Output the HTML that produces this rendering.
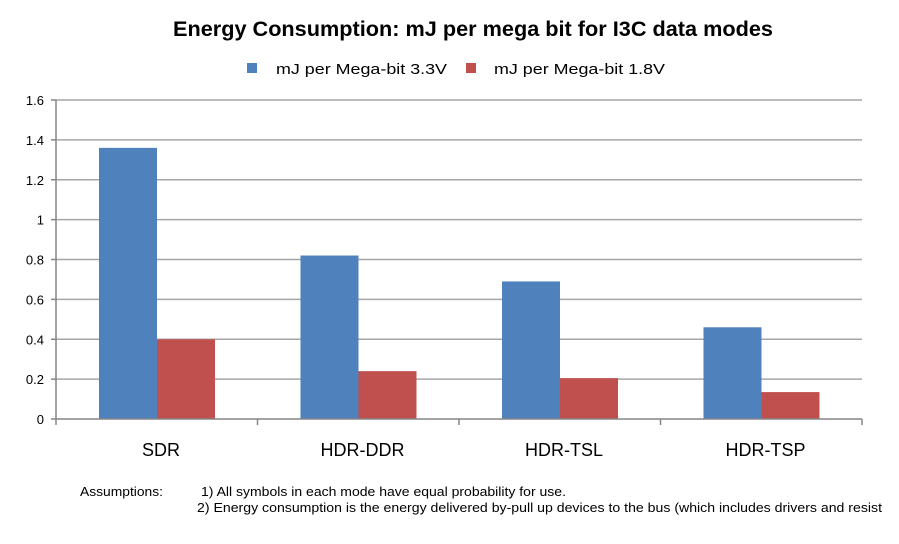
<!DOCTYPE html>
<html><head><meta charset="utf-8"><style>
body{margin:0;background:#fff;width:899px;height:539px;overflow:hidden;font-family:"Liberation Sans",sans-serif}
</style></head><body>
<svg id="chart" width="899" height="539">
<text x="173" y="36" textLength="600" lengthAdjust="spacingAndGlyphs" font-size="21" font-weight="bold" fill="#000">Energy Consumption: mJ per mega bit for I3C data modes</text>
<g>
<rect x="247" y="63" width="10" height="10" fill="#4f81bd"/>
<text x="276" y="74" textLength="171" lengthAdjust="spacingAndGlyphs" font-size="15">mJ per Mega-bit 3.3V</text>
<rect x="466" y="63" width="10" height="10" fill="#c0504d"/>
<text x="494" y="74" textLength="171" lengthAdjust="spacingAndGlyphs" font-size="15">mJ per Mega-bit 1.8V</text>
</g>
<g id="grid"></g><g id="bars"></g><g id="axes"></g>
<text x="80" y="496" textLength="83" lengthAdjust="spacingAndGlyphs" font-size="13">Assumptions:</text>
<text x="201" y="496" textLength="365" lengthAdjust="spacingAndGlyphs" font-size="13">1) All symbols in each mode have equal probability for use.</text>
<text x="197" y="512" textLength="685" lengthAdjust="spacingAndGlyphs" font-size="13">2) Energy consumption is the energy delivered by-pull  up devices to the bus (which includes drivers and resist</text>
</svg>
<script>
const categories=["SDR","HDR-DDR","HDR-TSL","HDR-TSP"];
const series33=[1.36,0.82,0.69,0.46];
const series18=[0.40,0.24,0.205,0.135];
const ticks=[0,0.2,0.4,0.6,0.8,1,1.2,1.4,1.6];
const tickLabels=["0","0.2","0.4","0.6","0.8","1","1.2","1.4","1.6"];
const NS="http://www.w3.org/2000/svg";
const x0=56,x1=862,yTop=100,yBot=419,vmax=1.6;
const y=v=>yBot-(v/vmax)*(yBot-yTop);
const band=(x1-x0)/categories.length;
function mk(t,a,p){const e=document.createElementNS(NS,t);for(const k in a)e.setAttribute(k,a[k]);p.appendChild(e);return e;}
const grid=document.getElementById('grid'),bars=document.getElementById('bars'),axes=document.getElementById('axes');
ticks.forEach((t,i)=>{
 if(t>0){const g=mk('line',{x1:x0,x2:x1,y1:y(t),y2:y(t),stroke:'#a6a6a6','stroke-width':1.5},grid);
 
 }
 const tk=mk('line',{x1:x0-5,x2:x0,y1:y(t),y2:y(t),stroke:'#868686','stroke-width':1.5},axes);
 
 
 const l=mk('text',{x:x0-12,y:y(t)+5,'text-anchor':'end','font-size':13},axes);
 l.textContent=tickLabels[i];
 
 
});
const bw=58,off=43;
categories.forEach((c,i)=>{
 const bx=x0+i*band+off;
 const b1=mk('rect',{x:bx,y:y(series33[i]),width:bw,height:yBot-y(series33[i]),fill:'#4f81bd'},bars);
 
 
 const b2=mk('rect',{x:bx+bw,y:y(series18[i]),width:bw,height:yBot-y(series18[i]),fill:'#c0504d'},bars);
 
 
 const l=mk('text',{x:bx+bw+4,y:456,'text-anchor':'middle','font-size':18},axes);
 l.textContent=c;
 
 
});
for(let i=0;i<=categories.length;i++){
 const t=mk('line',{x1:x0+i*band,x2:x0+i*band,y1:yBot,y2:yBot+6,stroke:'#868686','stroke-width':1.5},axes);
 
 
}
const ya=mk('line',{x1:x0,x2:x0,y1:yTop,y2:yBot,stroke:'#868686','stroke-width':1.5},axes);


const xa=mk('line',{x1:x0,x2:x1,y1:yBot,y2:yBot,stroke:'#868686','stroke-width':1.5},axes);


</script>
</body></html>
